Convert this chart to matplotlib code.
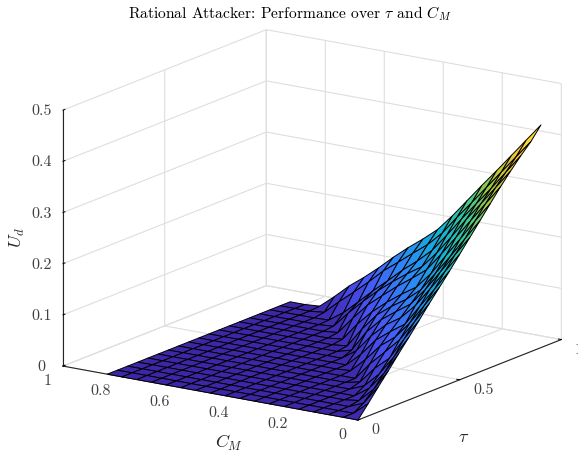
import numpy as np
import matplotlib
matplotlib.use("Agg")
import matplotlib.pyplot as plt
from matplotlib.colors import LinearSegmentedColormap
from mpl_toolkits.mplot3d import proj3d

plt.rcParams['font.family'] = ['cmr10', 'DejaVu Serif']
plt.rcParams['mathtext.fontset'] = 'cm'
plt.rcParams['axes.formatter.use_mathtext'] = True

# Grid
c_m = [0.0, 0.05, 0.10, 0.15, 0.20, 0.25, 0.30, 0.35, 0.40, 0.45, 0.50, 0.55, 0.60, 0.65, 0.70, 0.75, 0.80, 0.85]
tau = [0.0, 0.05, 0.10, 0.15, 0.20, 0.25, 0.30, 0.35, 0.40, 0.45, 0.50, 0.55, 0.60, 0.65, 0.70, 0.75, 0.80, 0.85, 0.90]

# U_d: one row per tau, starting at C_M = 0; the rest of each row is 0
u_00 = [0.0]
u_05 = [.024]
u_10 = [.049, .012]
u_15 = [.073, .031, .004]
u_20 = [.098, .054, .020]
u_25 = [.122, .079, .040, .012]
u_30 = [.147, .106, .063, .038, .006]
u_35 = [.172, .131, .091, .062, .034]
u_40 = [.196, .156, .116, .083, .061, .029, .002]
u_45 = [.220, .180, .141, .101, .081, .059, .026]
u_50 = [.245, .206, .167, .129, .100, .081, .054, .020]
u_55 = [.270, .231, .192, .153, .119, .099, .078, .049, .008]
u_60 = [.295, .255, .215, .177, .139, .115, .096, .074, .041, .003]
u_65 = [.320, .282, .242, .203, .163, .131, .112, .091, .067, .038, .003]
u_70 = [.345, .307, .269, .231, .193, .157, .135, .114, .091, .067, .036, .003]
u_75 = [.368, .331, .294, .258, .219, .182, .150, .131, .110, .087, .061, .033, .002]
u_80 = [.390, .353, .316, .281, .246, .209, .174, .148, .125, .099, .074, .047, .021, .001]
u_85 = [.410, .375, .340, .305, .270, .236, .200, .172, .150, .127, .105, .078, .053, .029, .003]
u_90 = [.435, .400, .365, .330, .296, .261, .226, .194, .170, .148, .124, .098, .074, .052, .026, .002]
rows = [u_00, u_05, u_10, u_15, u_20, u_25, u_30, u_35, u_40, u_45, u_50, u_55, u_60, u_65, u_70, u_75, u_80, u_85, u_90]

tau_ticks = [0, 0.5, 1]
tau_labels = ['0', '0.5', '1']
c_ticks = [0, 0.2, 0.4, 0.6, 0.8, 1]
c_labels = ['0', '0.2', '0.4', '0.6', '0.8', '1']
u_ticks = [0, 0.1, 0.2, 0.3, 0.4, 0.5]
u_labels = ['0', '0.1', '0.2', '0.3', '0.4', '0.5']

parula = LinearSegmentedColormap.from_list('parula', [
    (0.2422, 0.1504, 0.6603), (0.2810, 0.3228, 0.9579), (0.1786, 0.5289, 0.9682),
    (0.0689, 0.6948, 0.8394), (0.2161, 0.7843, 0.5923), (0.6720, 0.7793, 0.2227),
    (0.9970, 0.7659, 0.2199), (0.9769, 0.9839, 0.0805)])

W, H = 578, 453
fig = plt.figure(figsize=(W / 100, H / 100), dpi=100, facecolor='white')
side = 500
ax = fig.add_axes([30 / W, 0, side / W, side / H], projection='3d', proj_type='ortho')
ax.view_init(elev=15.6, azim=-145.8)
ax.set_box_aspect((362, 357, 266))
ax.set_xlim(0, 1, view_margin=0)
ax.set_ylim(0, 1, view_margin=0)
ax.set_zlim(0, 0.5, view_margin=0)
ax.patch.set_alpha(0)

Z = np.array([r + [0.0] * (len(c_m) - len(r)) for r in rows])
T, C = np.meshgrid(tau, c_m, indexing='ij')
ax.plot_surface(T, C, Z, cmap=parula, vmin=0, vmax=0.45, rstride=1, cstride=1,
                edgecolor='black', linewidth=0.7, shade=False, antialiased=True)

ink = (0.25, 0.25, 0.25)
ax.set_xticks(tau_ticks)
ax.set_xticklabels(tau_labels, ha='left', va='baseline', color=ink, fontsize=11.5)
ax.set_yticks(c_ticks)
ax.set_yticklabels(c_labels, ha='right', va='baseline', color=ink, fontsize=11.5)
ax.set_zticks(u_ticks)
ax.set_zticklabels(u_labels, ha='center', va='center', color=ink, fontsize=11.5)

for axis in (ax.xaxis, ax.yaxis, ax.zaxis):
    axis.set_pane_color((1, 1, 1, 1))
    axis.pane.set_edgecolor('white')
    axis.pane.set_linewidth(0)
    axis._axinfo['grid'].update(color=(0.87, 0.87, 0.87), linewidth=0.8)
    axis._axinfo['axisline'].update(color=(0.15, 0.15, 0.15), linewidth=0.8)
    axis._axinfo['tick'].update(inward_factor=0.0, outward_factor=0.12, linewidth={True: 0.7, False: 0.7})
    axis.line.set_color((0.15, 0.15, 0.15))
    axis.line.set_linewidth(0.8)
ax.zaxis.set_ticks_position('upper')
ax.zaxis.set_label_position('upper')
ax.tick_params(axis='x', pad=1.5)
ax.tick_params(axis='y', pad=3.5)
ax.tick_params(axis='z', pad=1)

# Fit the projected box on the reference's pixel frame
def px(x, y, z):
    a, b, _ = proj3d.proj_transform(x, y, z, ax.get_proj())
    return ax.transData.transform((a, b))

fig.canvas.draw()
p0, p1 = px(0, 0, 0), px(0, 1, 0)
s = 295 / abs(p1[0] - p0[0])
side *= s
ax.set_position([30 / W, 0, side / W, side / H])
fig.canvas.draw()
p0 = px(0, 0, 0)
dx, dy = 358 - p0[0], (H - 420) - p0[1]
ax.set_position([(30 + dx) / W, dy / H, side / W, side / H])

fig.text(289.5 / W, 1 - 14 / H, r'Rational Attacker: Performance over $\tau$ and $C_M$',
         ha='center', va='center', fontsize=11.2, color='black')
fig.text(229 / W, 1 - 443 / H, r'$C_M$', ha='center', va='center', fontsize=13, color=(0.15, 0.15, 0.15))
fig.text(464 / W, 1 - 437 / H, r'$\tau$', ha='center', va='center', fontsize=13, color=(0.15, 0.15, 0.15))
fig.text(17 / W, 1 - 238 / H, r'$U_d$', ha='center', va='center', fontsize=13, color=(0.15, 0.15, 0.15), rotation=90)

fig.savefig('out.png', dpi=100)
